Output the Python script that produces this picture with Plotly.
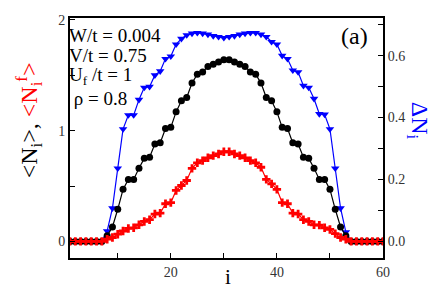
import plotly.graph_objects as go

sites = list(range(1, 61))

# <N_i> (black circles, left axis)
n_total = [0, 0, 0, 0, 0, 0, 0, 0.05, 0.13, 0.29, 0.47, 0.56, 0.56, 0.66, 0.75, 0.76, 0.88, 0.89, 1.02, 1.03,
           1.17, 1.27, 1.30, 1.43, 1.51, 1.53, 1.58, 1.60, 1.62, 1.64, 1.64, 1.62, 1.60, 1.58, 1.53, 1.51, 1.43, 1.30, 1.27, 1.17,
           1.03, 1.02, 0.89, 0.88, 0.76, 0.75, 0.66, 0.56, 0.56, 0.47, 0.29, 0.13, 0.05, 0, 0, 0, 0, 0, 0, 0]

# <N_i^f> (red crosses, left axis)
n_f = [0, 0, 0, 0, 0, 0, 0, 0.02, 0.035, 0.065, 0.094, 0.117, 0.123, 0.15, 0.18, 0.196, 0.247, 0.255, 0.34, 0.35,
       0.46, 0.505, 0.55, 0.66, 0.71, 0.73, 0.755, 0.775, 0.79, 0.81, 0.81, 0.79, 0.775, 0.755, 0.73, 0.71, 0.67, 0.56, 0.52, 0.47,
       0.35, 0.34, 0.255, 0.247, 0.196, 0.18, 0.15, 0.147, 0.123, 0.108, 0.07, 0.035, 0.02, 0, 0, 0, 0, 0, 0, 0]

# Delta N_i (blue triangles, right axis)
delta_n = [0, 0, 0, 0, 0, 0, 0, 0.033, 0.107, 0.236, 0.363, 0.408, 0.408, 0.458, 0.497, 0.50, 0.537, 0.55, 0.59, 0.598,
           0.637, 0.655, 0.667, 0.672, 0.674, 0.672, 0.669, 0.664, 0.661, 0.658, 0.661, 0.664, 0.669, 0.672, 0.674, 0.674, 0.669, 0.661, 0.645, 0.637,
           0.60, 0.59, 0.553, 0.547, 0.503, 0.497, 0.461, 0.412, 0.41, 0.363, 0.236, 0.107, 0.03, 0, 0, 0, 0, 0, 0, 0]

x_tickvals = [20, 40, 60]
x_minorvals = [10, 30, 50]
yl_tickvals = [0, 1, 2]
yl_minorvals = [0.5, 1.5]
yr_tickvals = [0, 0.2, 0.4, 0.6]
yr_ticktext = ["0.0", "0.2", "0.4", "0.6"]
yr_minorvals = [0.1, 0.3, 0.5, 0.7]

FONT = "Liberation Serif"

fig = go.Figure()
fig.add_trace(go.Scatter(x=sites, y=delta_n, mode="lines+markers", yaxis="y",
                         line=dict(color="#0000ff", width=1.2),
                         marker=dict(symbol="triangle-down", size=7.5, color="#0000ff")))
fig.add_trace(go.Scatter(x=sites, y=n_total, mode="lines+markers", yaxis="y2",
                         line=dict(color="black", width=1.2),
                         marker=dict(symbol="circle", size=7, color="black")))
fig.add_trace(go.Scatter(x=sites, y=n_f, mode="lines+markers", yaxis="y2",
                         line=dict(color="#ff0000", width=1.2),
                         marker=dict(symbol="cross", size=7, color="#ff0000")))

axis_common = dict(showgrid=False, zeroline=False, showline=True, linecolor="black", linewidth=2,
                   ticks="inside", ticklen=5, tickwidth=1, tickcolor="black",
                   tickfont=dict(family=FONT, size=14, color="#333333"))

def minor(vals):
    return dict(tickmode="array", tickvals=vals, ticks="inside", ticklen=5, tickwidth=1,
                tickcolor="black", showgrid=False)

fig.update_layout(
    width=437, height=287,
    margin=dict(l=62, r=62, t=5, b=37),
    paper_bgcolor="white", plot_bgcolor="white",
    showlegend=False,
    font=dict(family=FONT, color="black"),
    xaxis=dict(range=[1, 60], tickmode="array", tickvals=x_tickvals, minor=minor(x_minorvals),
               mirror=True, **axis_common),
    yaxis=dict(range=[-0.054, 0.722], side="right", tickmode="array",
               tickvals=yr_tickvals, ticktext=yr_ticktext, minor=minor(yr_minorvals), **axis_common),
    yaxis2=dict(range=[-0.15, 2.018], side="left", overlaying="y", tickmode="array",
                tickvals=yl_tickvals, minor=minor(yl_minorvals), **axis_common),
)

ann_font = dict(family=FONT, size=19, color="black")
params = [("W/t = 0.004", 0.927), ("V/t = 0.75", 0.845), ("U<sub>f</sub> /t = 1", 0.759), (" ρ = 0.8", 0.665)]
for txt, yy in params:
    fig.add_annotation(text=txt, xref="paper", yref="paper", x=-0.009, y=yy,
                       xanchor="left", yanchor="middle", showarrow=False, font=ann_font)

fig.add_annotation(text="(a)", xref="paper", yref="paper", x=0.91, y=0.927,
                   xanchor="center", yanchor="middle", showarrow=False,
                   font=dict(family=FONT, size=24, color="black"))

fig.add_annotation(text="&lt;N<sub>i</sub>&gt;, <span style='color:#ff0000'>&lt;N<sub>i</sub><sup>f</sup>&gt;</span>",
                   xref="paper", yref="paper", x=-0.13, y=0.575, textangle=-90,
                   xanchor="center", yanchor="middle", showarrow=False,
                   font=dict(family=FONT, size=24, color="black"))

fig.add_annotation(text="ΔN<sub>i</sub>", xref="paper", yref="paper", x=1.11, y=0.57, textangle=90,
                   xanchor="center", yanchor="middle", showarrow=False,
                   font=dict(family=FONT, size=24, color="#0000ff"))

fig.add_annotation(text="i", xref="paper", yref="paper", x=0.505, y=-0.078,
                   xanchor="center", yanchor="middle", showarrow=False,
                   font=dict(family=FONT, size=21, color="black"))

fig.write_html("out.html")
